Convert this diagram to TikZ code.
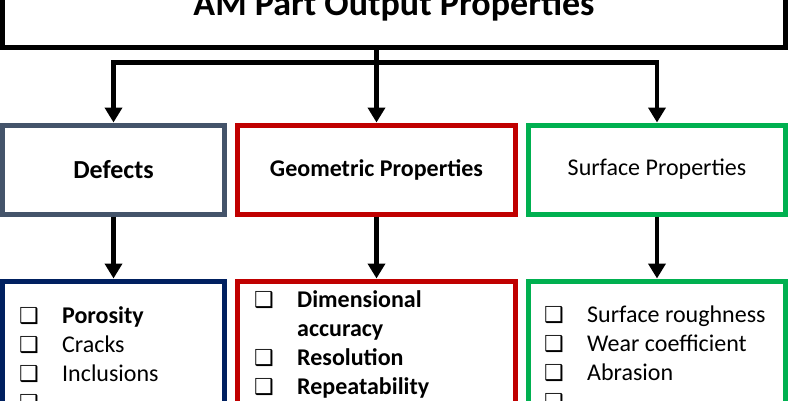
\documentclass[tikz,border=0pt]{standalone}
\usepackage{fontspec}
\setmainfont{Carlito}
\newfontfamily\boxfont{DejaVu Sans}
\usetikzlibrary{positioning,arrows.meta}

\definecolor{slate}{HTML}{44546A}
\definecolor{navy}{HTML}{002060}
\definecolor{darkred}{HTML}{C00000}
\definecolor{grn}{HTML}{00B050}

\newcommand{\chk}[1]{\makebox[43pt][l]{{\boxfont\bfseries\fontsize{22}{22}\selectfont ❑}}#1}
\newcommand{\cont}[1]{\hspace*{43pt}#1}

\tikzset{
  box/.style={draw, line width=5pt, inner sep=0pt, minimum height=89pt},
  listbox/.style={box, minimum height=180pt},
  item/.style={anchor=base west, inner sep=0pt, font=\fontsize{24}{29}\selectfont},
  arr/.style={line width=4.5pt, -{Triangle[width=17pt,length=15pt]}}
}

\begin{document}
\begin{tikzpicture}[x=1pt, y=-1pt]
    \useasboundingbox (0,0) rectangle (790,400);
    \clip (0,0) rectangle (790,400);

    \node [box, minimum width=783pt, minimum height=81pt, text height=23pt,
    text depth=7pt, font=\fontsize{36}{40}\selectfont\bfseries] (top) at (394,7)
    {AM Part Output Properties};

    \node [box, slate, minimum width=222pt, text=black,
    font=\fontsize{26}{30}\selectfont\bfseries] (def) at (113.5,169.5) {Defects};
    \node [box, darkred, minimum width=278pt, text=black,
    font=\fontsize{24}{28}\selectfont\bfseries] (geo) at (376.5,169.5)
    {Geometric Properties};
    \node [box, grn, minimum width=257pt, text=black,
    font=\fontsize{24}{28}\selectfont] (srf) at (657,169.5) {Surface Properties};

    \node [listbox, navy, minimum width=222pt, below = 62pt of def] (def-list) {};
    \node [listbox, darkred, minimum width=278pt, below = 62pt of geo] (geo-list) {};
    \node [listbox, grn, minimum width=257pt, below = 62pt of srf] (srf-list) {};

    % connectors
    \coordinate (bus) at (0,62.5);
    \draw [arr] (top.south -| geo.north) -- (geo.north);
    \draw [arr] (bus -| geo.north) -| (def.north);
    \draw [arr] (bus -| geo.north) -| (srf.north);
    \foreach \n in {def, geo, srf}
        \draw [arr] (\n.south) -- (\n-list.north);

    % lists
    \foreach \t [count=\i from 0] in {\chk{\textbf{Porosity}}, \chk{Cracks},
    \chk{Inclusions}, \chk{}}
        \node [item, name=def-\i] at ([shift={(19,44.5+29*\i)}]def-list.north west) {\t};
    \foreach \t [count=\i from 0] in {\chk{\textbf{Dimensional}},
    \cont{\textbf{accuracy}}, \chk{\textbf{Resolution}},
    \chk{\textbf{Repeatability}}}
        \node [item, name=geo-\i] at ([shift={(19,28.5+29*\i)}]geo-list.north west) {\t};
    \foreach \t [count=\i from 0] in {\chk{Surface roughness},
    \chk{Wear coefficient}, \chk{Abrasion}, \chk{}}
        \node [item, name=srf-\i] at ([shift={(18,44+29*\i)}]srf-list.north west) {\t};
\end{tikzpicture}
\end{document}
